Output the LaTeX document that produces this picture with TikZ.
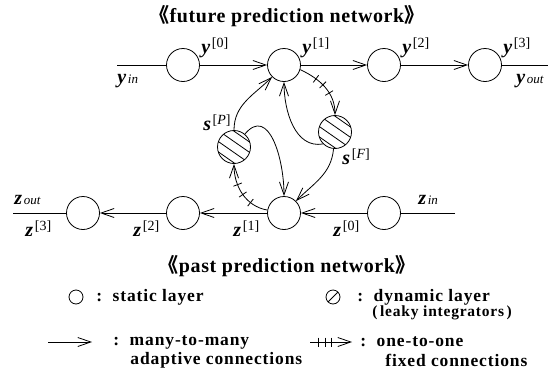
\documentclass[tikz,border=0pt]{standalone}
\usepackage{fontspec}
\setmainfont{Liberation Serif}
\newfontfamily\cjk{Noto Sans CJK SC}
\usetikzlibrary{arrows.meta,decorations.markings}

\newcommand{\vlab}[2]{{\fontsize{20}{20}\selectfont\bfseries\itshape #1}\,\raisebox{6pt}{\fontsize{14}{14}\selectfont[#2]}}
\newcommand{\vio}[2]{{\fontsize{20}{20}\selectfont\bfseries\itshape #1}\,{\fontsize{13}{13}\selectfont\itshape #2}}
\newcommand{\nettitle}[1]{{\cjk 《}#1{\cjk 》}}
\newcommand{\fixtick}{\draw[-] (0,-4.5) -- (0,4.5);}

\begin{document}
\begin{tikzpicture}[x=1pt,y=-1pt,line width=0.8pt,
  static/.style={circle,draw,minimum size=33pt,inner sep=0pt},
  dynamic/.style={static,path picture={\foreach \o in {-13,-4.5,4.5,13}
      \draw[shift={(path picture bounding box.center)}]
        ({-0.57*\o-20.5},{0.82*\o-14.3}) -- ({-0.57*\o+20.5},{0.82*\o+14.3});}},
  adapt/.style={-{Straight Barb[length=13pt,width=9pt]}},
  fixed/.style n args={3}{adapt,postaction={decorate,decoration={markings,
      mark=at position #1 with {\fixtick},
      mark=at position #2 with {\fixtick},
      mark=at position #3 with {\fixtick}}}},
  lab/.style={inner sep=0pt},
  legend/.style={font=\fontsize{17.5}{18}\selectfont\bfseries\addfontfeature{LetterSpace=5},inner sep=0pt,anchor=west},
  heading/.style={font=\fontsize{20}{20}\selectfont\bfseries\addfontfeature{LetterSpace=3}}
]
\useasboundingbox (0,0) rectangle (548,375);

% titles
\node[heading] (tfut) at (287,16) {\nettitle{future prediction network}};
\node[heading] (tpast) at (287,266) {\nettitle{past prediction network}};

% future prediction network
\node[static] (y0) at (183,65) {};
\node[static] (y1) at (284,65) {};
\node[static] (y2) at (384,65) {};
\node[static] (y3) at (485,65) {};
\coordinate (yin) at (117,65);
\coordinate (yend) at (548,65);

% past prediction network
\node[static] (z3) at (83,213) {};
\node[static] (z2) at (183,213) {};
\node[static] (z1) at (284,213) {};
\node[static] (z0) at (384,213) {};
\coordinate (zin) at (455,213);
\coordinate (zend) at (13,213);

% leaky integrators
\node[dynamic] (sP) at (234,147) {};
\node[dynamic] (sF) at (335,132) {};

\draw (yin) -- (y0);
\draw[adapt] (y0) -- (y1);
\draw[adapt] (y1) -- (y2);
\draw[adapt] (y2) -- (y3);
\draw (y3) -- (yend);
\draw (zin) -- (z0);
\draw[adapt] (z0) -- (z1);
\draw[adapt] (z1) -- (z2);
\draw[adapt] (z2) -- (z3);
\draw (z3) -- (zend);

\draw[fixed={0.3}{0.45}{0.62}] (y1.-16) to[out=-25,in=90] (sF.north);
\draw[adapt] (sF.225) to[out=190,in=-90] (y1.south);
\draw[adapt] (sF.-95) to[out=-95,in=45] (z1.45);
\draw[fixed={0.3}{0.48}{0.66}] (z1.170) to[out=170,in=-90] (sP.south);
\draw[adapt] (sP.north) to[out=90,in=-135] (y1.-135);
\draw[adapt] (sP.50) to[out=50,in=90,looseness=1.3] (z1.north);

% labels
\node[lab,anchor=west] (ly0) at (201,48) {\vlab{y}{0}};
\node[lab,anchor=west] (ly1) at (302,48) {\vlab{y}{1}};
\node[lab,anchor=west] (ly2) at (402,48) {\vlab{y}{2}};
\node[lab,anchor=west] (ly3) at (503,48) {\vlab{y}{3}};
\node[lab,anchor=west] (lyin) at (117,81) {\vio{y}{in}};
\node[lab,anchor=west] (lyout) at (516,81) {\vio{y}{out}};
\node[lab,anchor=west] (lzout) at (14,200) {\vio{z}{out}};
\node[lab,anchor=west] (lz3) at (25,229) {\vlab{z}{3}};
\node[lab,anchor=west] (lz2) at (133,229) {\vlab{z}{2}};
\node[lab,anchor=west] (lz1) at (233,229) {\vlab{z}{1}};
\node[lab,anchor=west] (lz0) at (333,229) {\vlab{z}{0}};
\node[lab,anchor=west] (lzin) at (418,200) {\vio{z}{in}};
\node[lab,anchor=east] (lsP) at (231,123) {\vlab{s}{\textit{P}}};
\node[lab,anchor=west] (lsF) at (342,157) {\vlab{s}{\textit{F}}};

% legend
\node[static,minimum size=14pt] (kstat) at (76,297) {};
\node[legend] (tstat) at (96,297) {:\ \ static layer};
\node[circle,draw,minimum size=14pt,inner sep=0pt,path picture={
  \draw (path picture bounding box.south west) -- (path picture bounding box.north east);}] (kdyn) at (333,297) {};
\node[legend] (tdyn) at (357,297) {:\ \ dynamic layer};
\node[legend,font=\fontsize{15.5}{16}\selectfont\bfseries\addfontfeature{LetterSpace=5}] (tleak) at (372,313) {(\,leaky integrators\,)};
\coordinate (ka0) at (48,342);
\coordinate (ka1) at (92,342);
\draw[adapt] (ka0) -- (ka1);
\node[legend] (tadapt) at (113,342) {:\ \ many-to-many};
\node[legend] (tadapt2) at (130,360) {adaptive connections};
\coordinate (kf0) at (310,342);
\coordinate (kf1) at (352,342);
\draw[fixed={0.19}{0.36}{0.52}] (kf0) -- (kf1);
\node[legend] (tfix) at (360,342) {:\ \ one-to-one};
\node[legend] (tfix2) at (385,360) {fixed connections};
\end{tikzpicture}
\end{document}
